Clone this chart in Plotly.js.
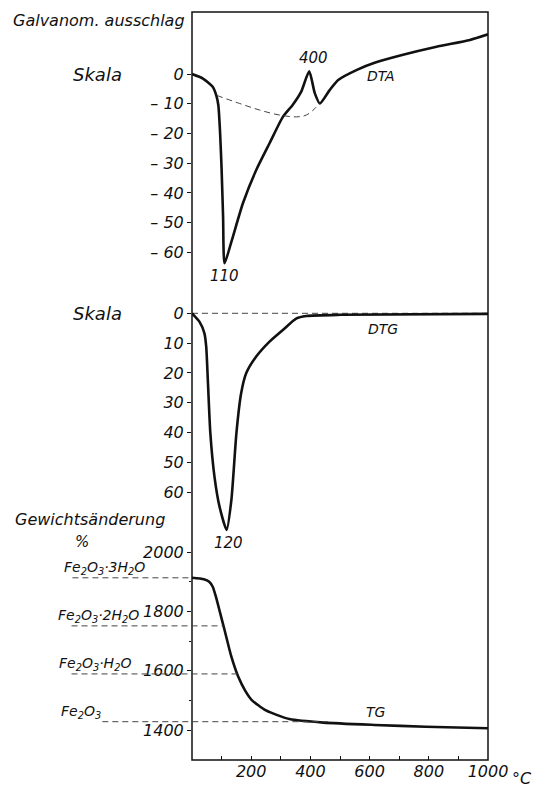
<!DOCTYPE html>
<html><head><meta charset="utf-8">
<script src="https://cdn.plot.ly/plotly-3.0.1.min.js"></script>
<style>html,body{margin:0;padding:0;background:#fff}</style>
</head><body><div id="chart" style="width:534px;height:789px"></div>
<script>
// ---- data ----
const dtaTemp  = [0, 37, 70, 82, 89, 95, 100, 105, 110, 133, 172, 217, 262, 307, 340, 369, 396, 415, 432, 465, 494, 559, 617, 713, 826, 939, 1000];
const dtaValue = [0, -1.5, -4.3, -7.2, -10.5, -20, -32, -48, -63.7, -56.5, -43.5, -32.3, -23.3, -14.4, -10.4, -5.9, 0.9, -6.5, -9.9, -5.4, -2.0, 1.5, 3.8, 6.5, 9.2, 11.5, 13.4];

const dtaBaseTemp  = [84, 161, 228, 296, 353, 386, 415, 431];
const dtaBaseValue = [-7.2, -9.9, -12.1, -13.8, -14.4, -13.8, -11.6, -9.7];

const dtgTemp  = [0, 25, 42, 48, 54, 62, 76, 93, 117, 133, 150, 166, 183, 217, 262, 307, 353, 386, 502, 1000];
const dtgValue = [0, 2.8, 6.7, 11.2, 23.5, 40.2, 54.8, 64.8, 72.6, 62.6, 40.2, 26.8, 20.1, 14.5, 9.5, 5.6, 1.7, 0.9, 0.5, 0.2];

const dtgBaseTemp  = [0, 1000];
const dtgBaseValue = [0, 0];

const tgTemp  = [0, 40, 58, 70, 80, 95, 110, 133, 156, 180, 202, 248, 300, 329, 444, 617, 790, 1000];
const tgValue = [1913, 1908, 1900, 1883, 1852, 1795, 1737, 1647, 1580, 1532, 1501, 1467, 1446, 1437, 1425, 1417, 1411, 1406];

const phaseNames    = ['Fe<sub>2</sub>O<sub>3</sub>·3H<sub>2</sub>O', 'Fe<sub>2</sub>O<sub>3</sub>·2H<sub>2</sub>O', 'Fe<sub>2</sub>O<sub>3</sub>·H<sub>2</sub>O', 'Fe<sub>2</sub>O<sub>3</sub>'];
const phaseLevels   = [1913, 1751, 1589, 1428];
const phaseEndTemp  = [0, 106, 153, 460];

const xTickVals = [200, 400, 600, 800, 1000];
const xTickText = ['200', '400', '600', '800', '1000'];
const xMinorVals = [100, 300, 500, 700, 900];
const dtaTickVals = [0, -10, -20, -30, -40, -50, -60];
const dtaTickText = ['0', '– 10', '– 20', '– 30', '– 40', '– 50', '– 60'];
const dtgTickVals = [0, 10, 20, 30, 40, 50, 60];
const dtgTickText = ['0', '10', '20', '30', '40', '50', '60'];
const tgTickVals = [1400, 1600, 1800, 2000];
const tgTickText = ['1400', '1600', '1800', '2000'];
const tgMinorVals = [1500, 1700, 1900];

const peakDTA1 = {t: 110, v: -63.7, label: '110'};
const peakDTA2 = {t: 396, v: 0.9, label: '400'};
const peakDTG  = {t: 117, v: 72.6, label: '120'};

// ---- layout helpers ----
const xRange = [0, 1000];
const toPaperX = t => (t - xRange[0]) / (xRange[1] - xRange[0]);
const FONT = 'DejaVu Sans';
const INK = '#111';
const f = (size) => ({family: FONT, size: size, color: INK, style: 'italic'});

const solid = {color: INK, width: 2.6, shape: 'spline', smoothing: 0.6};
const dashed = {color: '#444', width: 1, dash: '6px,4px'};

const traces = [
  {x: dtaTemp, y: dtaValue, yaxis: 'y', mode: 'lines', line: solid, hoverinfo: 'skip'},
  {x: dtaBaseTemp, y: dtaBaseValue, yaxis: 'y', mode: 'lines', line: Object.assign({shape: 'spline'}, dashed), hoverinfo: 'skip'},
  {x: dtgBaseTemp, y: dtgBaseValue, yaxis: 'y2', mode: 'lines', line: dashed, hoverinfo: 'skip'},
  {x: dtgTemp, y: dtgValue, yaxis: 'y2', mode: 'lines', line: solid, hoverinfo: 'skip'},
  {x: tgTemp, y: tgValue, yaxis: 'y3', mode: 'lines', line: solid, hoverinfo: 'skip'}
];

const phaseLabelX = [-0.4382, -0.4585, -0.4552, -0.4484];
const phaseLineX0 = [-0.404, -0.407, -0.407, -0.303];

const shapes = [
  {type: 'rect', xref: 'paper', yref: 'paper', x0: 0, x1: 1, y0: 0, y1: 1, line: {color: INK, width: 1.5}, layer: 'above'}
];
phaseLevels.forEach((lv, i) => {
  shapes.push({type: 'line', xref: 'paper', yref: 'y3', x0: phaseLineX0[i], x1: toPaperX(phaseEndTemp[i]), y0: lv, y1: lv, line: dashed});
});

const annotations = [
  {text: 'Galvanom. ausschlag', xref: 'paper', yref: 'paper', x: -0.017, y: 0.9893, xanchor: 'right', yanchor: 'middle', showarrow: false, font: f(16)},
  {text: 'Skala', xref: 'paper', yref: 'y', x: -0.4078, y: 0, xanchor: 'left', yanchor: 'middle', showarrow: false, font: f(18)},
  {text: 'Skala', xref: 'paper', yref: 'y2', x: -0.4078, y: 0, xanchor: 'left', yanchor: 'middle', showarrow: false, font: f(18)},
  {text: 'Gewichtsänderung', xref: 'paper', yref: 'paper', x: -0.604, y: 0.3209, xanchor: 'left', yanchor: 'middle', showarrow: false, font: f(16)},
  {text: '%', xref: 'paper', yref: 'paper', x: -0.3706, y: 0.2914, xanchor: 'center', yanchor: 'middle', showarrow: false, font: f(15)},
  {text: peakDTA1.label, xref: 'x', yref: 'y', x: peakDTA1.t, y: peakDTA1.v, xanchor: 'center', yanchor: 'top', yshift: -2, showarrow: false, font: f(15)},
  {text: peakDTA2.label, xref: 'x', yref: 'y', x: peakDTA2.t + 14, y: peakDTA2.v, xanchor: 'center', yanchor: 'bottom', yshift: 2, showarrow: false, font: f(15)},
  {text: peakDTG.label, xref: 'x', yref: 'y2', x: peakDTG.t + 7, y: peakDTG.v, xanchor: 'center', yanchor: 'top', yshift: -2, showarrow: false, font: f(15)},
  {text: 'DTA', xref: 'x', yref: 'y', x: 637, y: -0.7, xanchor: 'center', yanchor: 'middle', showarrow: false, font: f(14)},
  {text: 'DTG', xref: 'x', yref: 'y2', x: 645, y: 5.3, xanchor: 'center', yanchor: 'middle', showarrow: false, font: f(14)},
  {text: 'TG', xref: 'x', yref: 'y3', x: 620, y: 1461, xanchor: 'center', yanchor: 'middle', showarrow: false, font: f(14)},
  {text: '°C', xref: 'paper', yref: 'paper', x: 1.074, y: -0.0241, xanchor: 'left', yanchor: 'middle', showarrow: false, font: f(16)}
];
phaseNames.forEach((name, i) => {
  annotations.push({text: name, xref: 'paper', yref: 'y3', x: phaseLabelX[i], y: phaseLevels[i], xanchor: 'left', yanchor: 'bottom', yshift: -1, showarrow: false, font: f(14)});
});

const yBase = {showgrid: false, zeroline: false, showline: false, anchor: 'x', ticks: 'outside', ticklen: 4, tickwidth: 1, tickcolor: INK, tickfont: f(16), tickmode: 'array', fixedrange: true};

const layout = {
  width: 534, height: 789,
  margin: {l: 192, r: 46, t: 12, b: 29, pad: 0},
  paper_bgcolor: '#fff', plot_bgcolor: '#fff',
  showlegend: false,
  font: f(16),
  xaxis: {range: xRange, domain: [0, 1], anchor: 'y3', showgrid: false, zeroline: false, showline: false,
          tickmode: 'array', tickvals: xTickVals, ticktext: xTickText, ticks: 'inside', ticklen: 4, tickcolor: INK,
          minor: {tickmode: 'array', tickvals: xMinorVals, ticks: 'inside', ticklen: 4, tickcolor: INK},
          tickfont: f(16), fixedrange: true},
  yaxis:  Object.assign({}, yBase, {domain: [0.6283, 1], range: [-72.7, 20.9], tickvals: dtaTickVals, ticktext: dtaTickText}),
  yaxis2: Object.assign({}, yBase, {domain: [0.3008, 0.6283], range: [74.3, -7.8], tickvals: dtgTickVals, ticktext: dtgTickText}),
  yaxis3: Object.assign({}, yBase, {domain: [0, 0.3008], range: [1298.9, 2057.3], tickvals: tgTickVals, ticktext: tgTickText,
          minor: {tickmode: 'array', tickvals: tgMinorVals, ticks: 'outside', ticklen: 2, tickcolor: INK}}),
  shapes: shapes,
  annotations: annotations
};

Plotly.newPlot('chart', traces, layout, {staticPlot: true, displayModeBar: false});
</script></body></html>
